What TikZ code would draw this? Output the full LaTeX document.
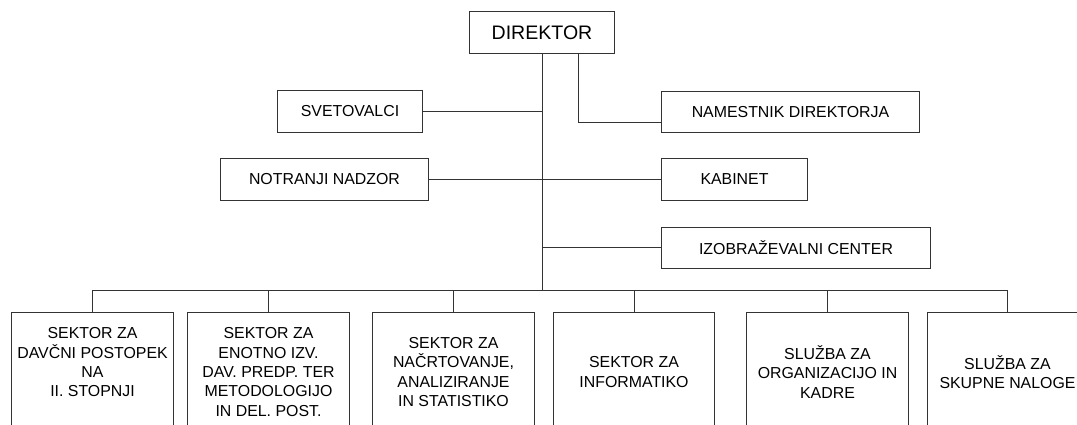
\documentclass[tikz,border=0pt]{standalone}
\usepackage{fontspec}
\setmainfont{Liberation Sans}
\begin{document}
\begin{tikzpicture}[x=0.025cm,y=-0.025cm,line width=0.7pt,
    box/.style={draw=black!80,inner sep=0pt,align=center,
      font=\fontsize{11.3}{13.8}\selectfont},
    unit/.style={box,minimum width=4.025cm,minimum height=2.95cm}]
  \useasboundingbox (0,0) rectangle (1077,425);

  \node[box,minimum width=3.6cm,minimum height=1.025cm,
    font=\fontsize{13.9}{16}\selectfont] (dir) at (542,32.5) {DIREKTOR};

  \node[box,minimum width=3.6cm,minimum height=1.025cm] (sve) at (350,111.5) {SVETOVALCI};
  \node[box,minimum width=5.175cm,minimum height=1.025cm] (not) at (324.5,179.5) {NOTRANJI NADZOR};
  \node[box,minimum width=6.425cm,minimum height=1cm] (nam) at (790.5,112) {NAMESTNIK DIREKTORJA};
  \node[box,minimum width=3.625cm,minimum height=1.025cm] (kab) at (734.5,179.5) {KABINET};
  \node[box,minimum width=6.7cm,minimum height=1.025cm] (izo) at (796,247.5) {IZOBRAŽEVALNI CENTER};

  \node[unit] (s1) at (92.5,372) {SEKTOR ZA\\DAVČNI POSTOPEK\\NA\\II. STOPNJI\\ \mbox{}};
  \node[unit] (s2) at (268.5,372) {SEKTOR ZA\\ENOTNO IZV.\\DAV. PREDP. TER\\METODOLOGIJO\\IN DEL. POST.};
  \node[unit] (s3) at (453.5,372) {SEKTOR ZA\\NAČRTOVANJE,\\ANALIZIRANJE\\IN STATISTIKO};
  \node[unit] (s4) at (634,372) {SEKTOR ZA\\INFORMATIKO};
  \node[unit] (s5) at (827.5,372) {SLUŽBA ZA\\ORGANIZACIJO IN\\KADRE};
  \node[unit] (s6) at (1007.5,372) {SLUŽBA ZA\\SKUPNE NALOGE};

  \coordinate (bus) at (542,290);

  % lines from the director
  \draw[black!80] (dir.south) -- (bus);
  \draw[black!80] ([xshift=0.9cm]dir.south) |- ([yshift=-0.25cm]nam.west);
  \draw[black!80] (sve.east) -- (sve.east -| dir.south);
  \draw[black!80] (not.east) -- (kab.west);
  \draw[black!80] (izo.west) -- (izo.west -| dir.south);

  % sectors
  \draw[black!80] (s1.north |- bus) -- (s6.north |- bus);
  \foreach \i in {1,...,6}
    \draw[black!80] (s\i.north) -- (s\i.north |- bus);
\end{tikzpicture}
\end{document}
